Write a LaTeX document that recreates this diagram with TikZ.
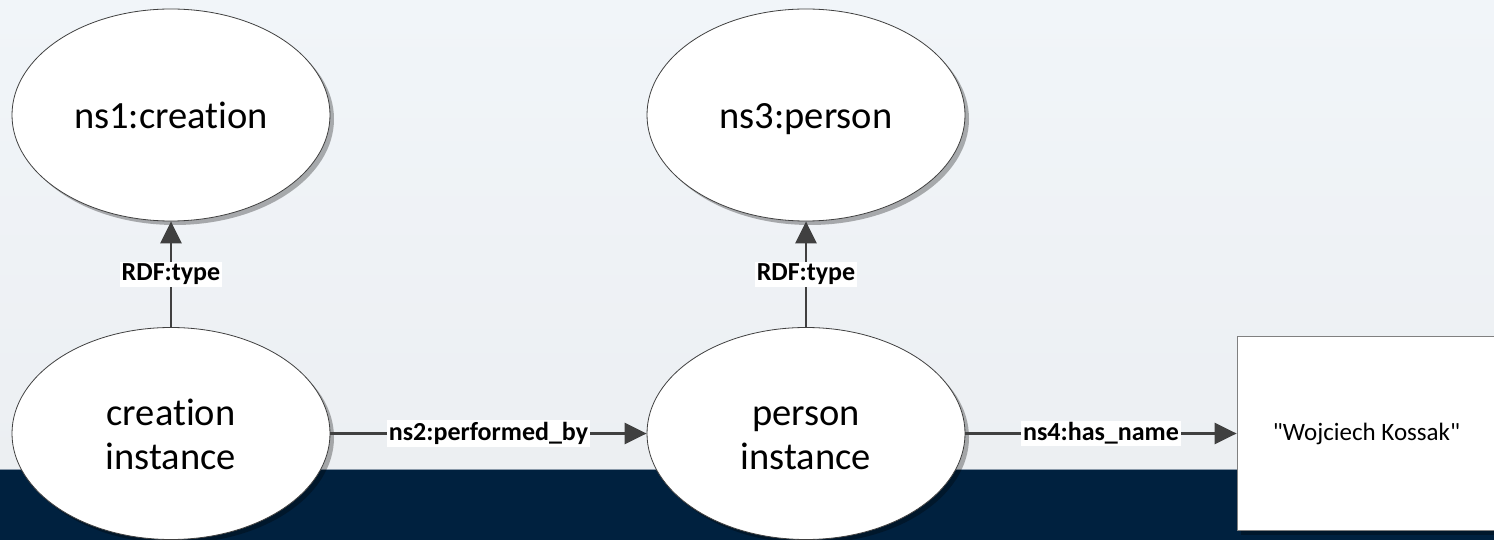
\documentclass[tikz,border=0pt]{standalone}
\usepackage{fontspec}
\setmainfont{Carlito}[Ligatures={NoCommon,TeXOff}]
\usetikzlibrary{arrows.meta,shadows,shapes.geometric}
\definecolor{navy}{HTML}{00213F}
\definecolor{bgtop}{HTML}{F1F5F9}
\definecolor{bgbot}{HTML}{ECEFF2}
\definecolor{linec}{HTML}{404040}
\definecolor{bandedge}{HTML}{8797A8}
\tikzset{
  bubble/.style={ellipse, draw=linec, line width=0.8pt, fill=white,
    minimum width=318pt, minimum height=212pt, inner sep=0pt, align=center,
    font=\fontsize{38.5}{44}\selectfont,
    drop shadow={shadow xshift=4pt, shadow yshift=-4pt, fill=black, opacity=0.3}},
  classbubble/.style={bubble, text height=28pt, text depth=0pt},
  instbubble/.style={bubble, text height=71pt, text depth=0pt},
  literal/.style={rectangle, draw=gray, line width=0.8pt, fill=white,
    minimum width=259pt, minimum height=194pt, inner sep=0pt, align=center,
    font=\fontsize{25}{30}\selectfont,
    drop shadow={shadow xshift=4pt, shadow yshift=-4pt, fill=black, opacity=0.3}},
  link/.style={draw=linec, line width=2.5pt, -{Triangle[length=22pt,width=21pt]}},
  lbl/.style={fill=white, inner sep=2pt, text=black, font=\fontsize{26}{30}\selectfont\bfseries}
}
\begin{document}
\begin{tikzpicture}[x=1pt,y=-1pt]
\useasboundingbox (0,0) rectangle (1494,540);
% background
\fill[top color=bgtop, bottom color=bgbot] (0,0) rectangle (1494,470);
\fill[navy] (0,470) rectangle (1494,540);
\draw[bandedge, line width=1.5pt] (0,469.5) -- (1494,469.5);
% nodes
\node[classbubble] (cls1) at (171,115) {ns1:creation};
\node[classbubble] (cls2) at (806,115) {ns3:person};
\node[instbubble] (ci) at (171,433.5) {creation\\instance};
\node[instbubble] (pi) at (806,433.5) {person\\instance};
\node[literal] (name) at (1366.5,433.5) {"Wojciech Kossak"};
% connectors
\draw[link] (ci.north) -- node[lbl] {RDF:type} (cls1.south);
\draw[link] (pi.north) -- node[lbl] {RDF:type} (cls2.south);
\draw[link] (ci.east) -- node[lbl] {ns2:performed\_by} (pi.west);
\draw[link] (pi.east) -- node[lbl] {ns4:has\_name} (name.west);
\end{tikzpicture}
\end{document}
